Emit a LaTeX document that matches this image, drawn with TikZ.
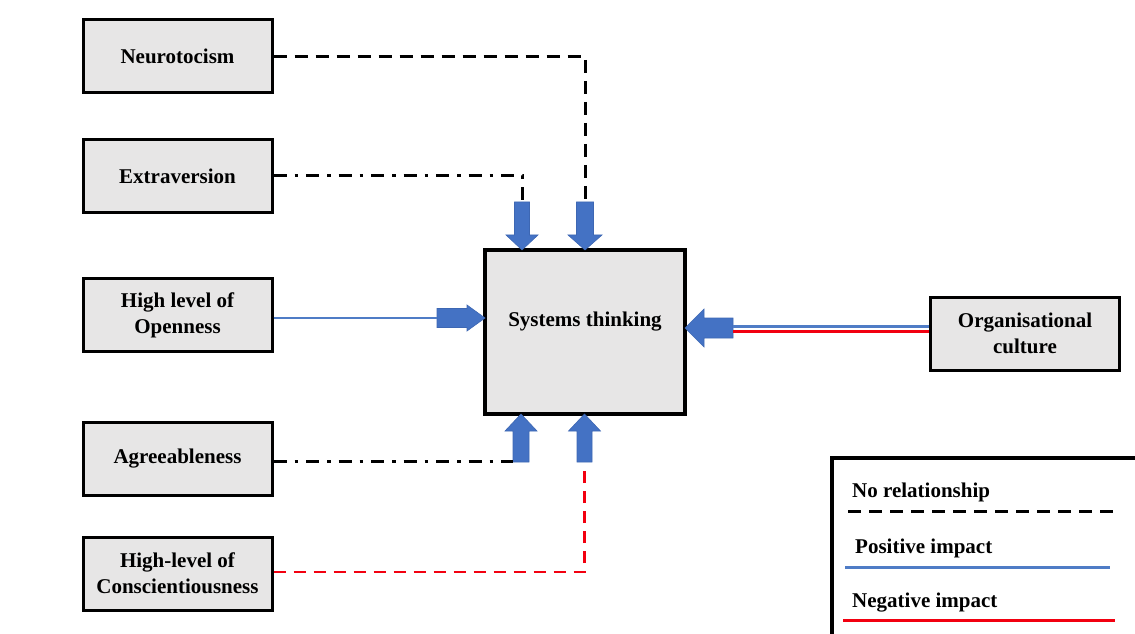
\documentclass[tikz,border=0pt]{standalone}
\usepackage{fontspec}
\setmainfont{Liberation Serif}
\begin{document}
\begin{tikzpicture}[x=1pt,y=1pt,
  every node/.style={font=\bfseries\fontsize{21}{26}\selectfont},
  trait/.style={draw=black, line width=3pt, fill=boxgray, minimum width=189pt,
    minimum height=73pt, align=center, inner sep=0pt},
  core/.style={draw=black, line width=3.2pt, fill=boxgray, minimum width=200pt,
    minimum height=164pt, inner sep=0pt},
  nolink/.style={line width=3pt, black, dash pattern=on 13pt off 8pt},
  nolinkdot/.style={line width=3pt, black, dash pattern=on 13pt off 8pt on 3.5pt off 8pt},
  negdash/.style={line width=2.8pt, negred, dash pattern=on 12pt off 8pt},
  posline/.style={line width=1.8pt, posblue},
  legtext/.style={anchor=west, inner sep=0pt},
  pics/barrow/.style args={#1/#2/#3}{code={
    \filldraw[fill=arrowblue, draw=arrowedge, line width=0.6pt]
      (0,0) -- (-#1,#2) -- (-#1,#3) -- (-48,#3) -- (-48,-#3) -- (-#1,-#3) -- (-#1,-#2) -- cycle;
  }}
]
\definecolor{boxgray}{HTML}{E7E6E6}
\definecolor{arrowblue}{HTML}{4472C4}
\definecolor{arrowedge}{HTML}{3D67B3}
\definecolor{posblue}{HTML}{4F7CC6}
\definecolor{negred}{HTML}{F20010}

\useasboundingbox (0,0) rectangle (1135,633);

% personality traits
\node[trait] (neu) at (177.5,576.5) {Neurotocism};
\node[trait] (ext) at (177.5,457) {Extraversion};
\node[trait] (ope) at (177.5,318) {High level of\\Openness};
\node[trait] (agr) at (177.5,174.5) {Agreeableness};
\node[trait] (con) at (177.5,59.5) {High-level of\\Conscientiousness};

% central construct and organisational culture
\node[core, label={[yshift=10pt]center:Systems thinking}] (sys) at (585,301) {};
\node[trait] (org) at (1025,299.5) {Organisational\\culture};

% block arrows into the central box
\pic[rotate=-90] at (522,383) {barrow={15/16/7.5}};
\pic[rotate=-90] at (585,383) {barrow={15/17/8.5}};
\pic at (485,315) {barrow={18/13/9.5}};
\pic[rotate=90] at (521,219) {barrow={17/16/8}};
\pic[rotate=90] at (584.5,219) {barrow={17/16/7.5}};
\pic[rotate=180] at (685,305) {barrow={19/19/10}};

% tails of the block arrows
\coordinate (tN) at (585,431);
\coordinate (tE) at (522,431);
\coordinate (tO) at (437,315);
\coordinate (tA) at (513,172);
\coordinate (tC) at (584.5,169);
\coordinate (tG) at (733,305);

% connectors
\draw[nolink] (neu.east) -| (tN);
\draw[nolinkdot] (ext.east) -| (tE);
\draw[posline] (ope.east |- tO) -- (tO);
\draw[nolinkdot] (agr.east |- tA) -- (tA);
\draw[negdash] (con.east |- 0,61) -| (tC);
\draw[line width=3pt, posblue] (org.west |- 0,306.5) -- (tG |- 0,306.5);
\draw[line width=3pt, negred] (org.west |- 0,302) -- (tG |- 0,302);

% legend
\begin{scope}
  \clip (0,0) rectangle (1135,633);
  \draw[line width=3.2pt] (832,-10) -- (832,175) -- (1150,175);
\end{scope}
\node[legtext] (lnone) at (852,141) {No relationship};
\coordinate (lnA) at (848,122);
\coordinate (lnB) at (1118,122);
\draw[nolink] (lnA) -- (lnB);
\node[legtext] (lpos) at (855,85) {Positive impact};
\coordinate (lpA) at (845,66);
\coordinate (lpB) at (1110,66);
\draw[line width=3pt, posblue] (lpA) -- (lpB);
\node[legtext] (lneg) at (852,30) {Negative impact};
\coordinate (lrA) at (843,13);
\coordinate (lrB) at (1115,13);
\draw[line width=3pt, negred] (lrA) -- (lrB);
\end{tikzpicture}
\end{document}
